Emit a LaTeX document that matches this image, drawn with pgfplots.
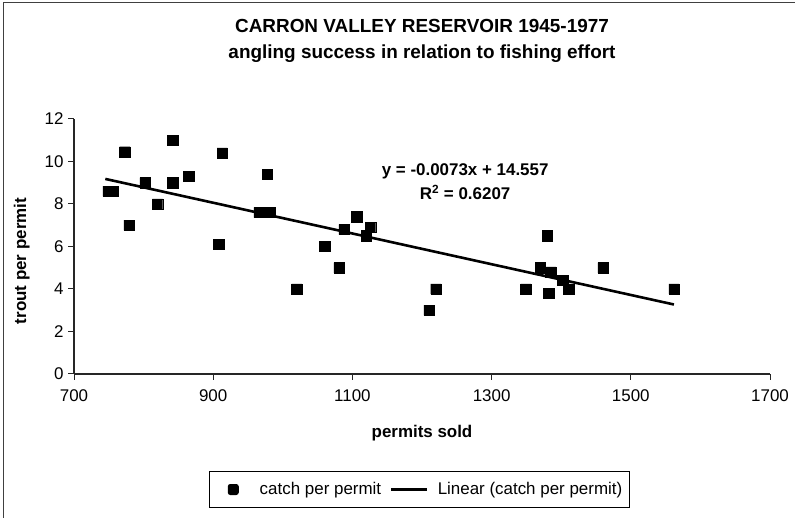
\documentclass[border=0pt]{standalone}
\usepackage{fontspec}
\setmainfont{Liberation Sans}
\usepackage{pgfplots}
\pgfplotsset{compat=1.18}
\pgfdeclareplotmark{rsq}{%
  \pgfsetcornersarced{\pgfpoint{2.5bp}{2.5bp}}%
  \pgfpathmoveto{\pgfpoint{-\pgfplotmarksize}{0pt}}%
  \pgfpathlineto{\pgfpoint{-\pgfplotmarksize}{\pgfplotmarksize}}%
  \pgfpathlineto{\pgfpoint{\pgfplotmarksize}{\pgfplotmarksize}}%
  \pgfpathlineto{\pgfpoint{\pgfplotmarksize}{-\pgfplotmarksize}}%
  \pgfpathlineto{\pgfpoint{-\pgfplotmarksize}{-\pgfplotmarksize}}%
  \pgfpathclose
  \pgfusepathqfillstroke}
\begin{document}
\begin{tikzpicture}[x=1bp,y=1bp]
\useasboundingbox (0,0) rectangle (795,518);
\fill[white] (0,0) rectangle (795,518);
\draw[line width=1bp, black!75] (3,-10) -- (3,515) -- (810,515);
\begin{axis}[
  at={(74bp,144bp)}, anchor=south west,
  scale only axis, width=696bp, height=255bp,
  xmin=700, xmax=1700, ymin=0, ymax=12,
  xtick={700,900,1100,1300,1500,1700},
  ytick={0,2,4,6,8,10,12},
  axis lines=left,
  axis line style={-, line width=1.1bp, black!85},
  tick align=outside,
  major tick length=6bp,
  tick style={line width=1bp, black!85},
  /pgf/number format/assume math mode=true,
  /pgf/number format/1000 sep={},
  ticklabel style={font=\fontsize{17}{20}\selectfont},
  xticklabel style={yshift=-6bp},
  yticklabel style={xshift=-1bp},
  legend style={at={(axis description cs:0.4964,-0.453)}, anchor=center,
    draw=black, line width=1bp, font=\fontsize{17}{20}\selectfont,
    legend columns=2, inner xsep=5bp, inner ysep=9bp,
    /tikz/every odd column/.append style={column sep=7bp},
    /tikz/every even column/.append style={column sep=7bp}},
  legend cell align=left,
  clip=false,
]
\addplot[only marks, mark=rsq, mark size=5.2bp,
  mark options={fill=black, draw=black},
  legend image code/.code={\path[draw=none,fill=none] (0bp,0bp) -- (36bp,0bp);
    \fill[black, draw=none, rounded corners=2.5bp] (13bp,-5.5bp) rectangle (24bp,5.5bp);}]
  coordinates {
  (749,8.6) (756,8.6) (773,10.45) (779,7.0) (802,9.0) (820,8.0)
  (842,11.0) (842,9.0) (865,9.3) (908,6.1) (913,10.4) (966,7.6)
  (978,9.4) (981,7.6) (1020,4.0) (1060,6.0) (1081,5.0) (1088,6.8)
  (1106,7.4) (1126,6.9) (1120,6.5) (1220,4.0) (1210,3.0) (1349,4.0)
  (1380,6.5) (1370,5.0) (1385,4.8) (1382,3.8) (1402,4.4) (1411,4.0)
  (1460,5.0) (1562,4.0)
  };
\addlegendentry{catch per permit}
\addplot[black, line width=2.6bp,
  legend image code/.code={\draw[black, line width=2.6bp] (0bp,0bp) -- (36bp,0bp);}]
  coordinates {(745,9.18) (1562,3.27)};
\addlegendentry{Linear (catch per permit)}
\node[anchor=base, font=\bfseries\fontsize{17}{20}\selectfont] at (axis cs:1262,9.33) {y = -0.0073x + 14.557};
\node[anchor=base, font=\bfseries\fontsize{17}{20}\selectfont] at (axis cs:1262,8.2) {R\textsuperscript{2} = 0.6207};
\end{axis}
\node[anchor=base, font=\bfseries\fontsize{17}{20}\selectfont] at (422,80) {permits sold};
\node[anchor=base, rotate=90, font=\bfseries\fontsize{17}{20}\selectfont] at (26,257) {trout per permit};
\node[anchor=base, font=\bfseries\fontsize{19}{22}\selectfont] at (422,485) {CARRON VALLEY RESERVOIR 1945-1977};
\node[anchor=base, font=\bfseries\fontsize{19}{22}\selectfont] at (422,459) {angling success in relation to fishing effort};
\end{tikzpicture}
\end{document}
